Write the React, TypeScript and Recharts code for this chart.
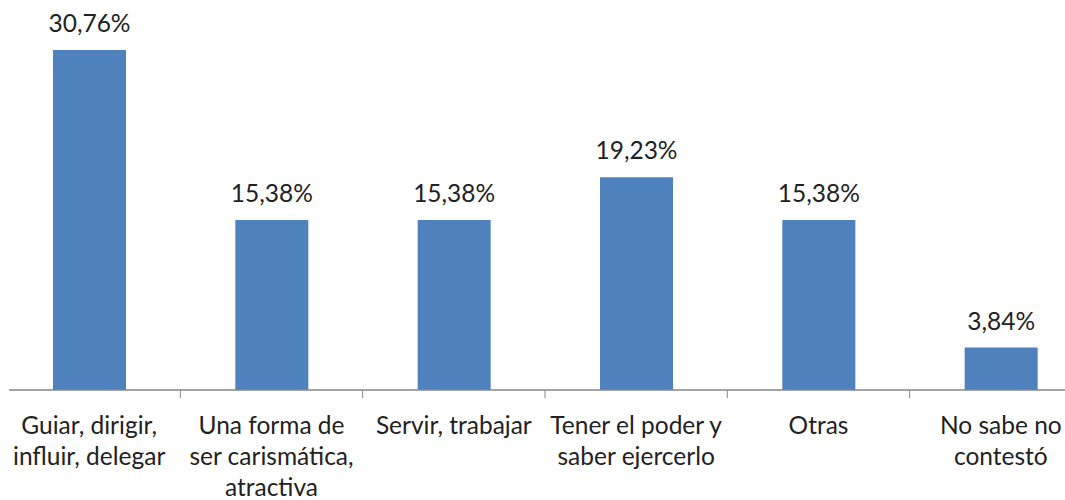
import React from 'react';
import { BarChart, Bar, XAxis, YAxis, LabelList } from 'recharts';

// category labels, already split the way the original wraps them
const categoryLines: string[][] = [
  ['Guiar, dirigir,', 'influir, delegar'],
  ['Una forma de', 'ser carismática,', 'atractiva'],
  ['Servir, trabajar'],
  ['Tener el poder y', 'saber ejercerlo'],
  ['Otras'],
  ['No sabe no', 'contestó'],
];
const categories = categoryLines.map((lines) => lines.join(' '));
const percentages = [30.76, 15.38, 15.38, 19.23, 15.38, 3.84];

const data = categories.map((category, i) => ({ category, value: percentages[i] }));

const FONT = 'Lato, "Open Sans", sans-serif';
const TEXT_COLOR = '#222222';
const BAR_COLOR = '#4F81BD';
const AXIS_COLOR = '#868686';

const formatPct = (v: number) => `${v.toFixed(2).replace('.', ',')}%`;

const CategoryTick = (props: any) => {
  const { x, y, payload, index } = props;
  const lines = categoryLines[index] ?? [String(payload.value)];
  const half = payload.offset ?? 0;
  return (
    <g>
      <line x1={x + half} y1={y} x2={x + half} y2={y + 8} stroke={AXIS_COLOR} strokeWidth={1} />
      <text x={x} y={y} textAnchor="middle" fill={TEXT_COLOR} fontFamily={FONT} fontSize={24.5}>
        {lines.map((line, i) => (
          <tspan key={i} x={x} dy={i === 0 ? 44 : 31}>
            {line}
          </tspan>
        ))}
      </text>
    </g>
  );
};

export default function App() {
  return (
    <div style={{ position: 'absolute', left: 0, top: 0, width: 1065, height: 500, overflow: 'hidden', background: '#fff' }}>
      <div style={{ marginLeft: 9 }}>
        <BarChart
          width={1083}
          height={500}
          data={data}
          margin={{ top: 3, right: 0, bottom: 0, left: 0 }}
        >
          <XAxis
            dataKey="category"
            height={110}
            interval={0}
            padding={{ left: -11, right: 0 }}
            tickLine={false}
            tickSize={0}
            tickMargin={0}
            axisLine={{ stroke: AXIS_COLOR, strokeWidth: 1.3 }}
            tick={<CategoryTick />}
          />
          <YAxis hide domain={[0, 35]} />
          <Bar dataKey="value" fill={BAR_COLOR} barSize={73} isAnimationActive={false}>
            <LabelList
              dataKey="value"
              position="top"
              offset={18}
              formatter={(v: any) => formatPct(Number(v))}
              fill={TEXT_COLOR}
              fontFamily={FONT}
              fontSize={24.5}
            />
          </Bar>
        </BarChart>
      </div>
    </div>
  );
}
